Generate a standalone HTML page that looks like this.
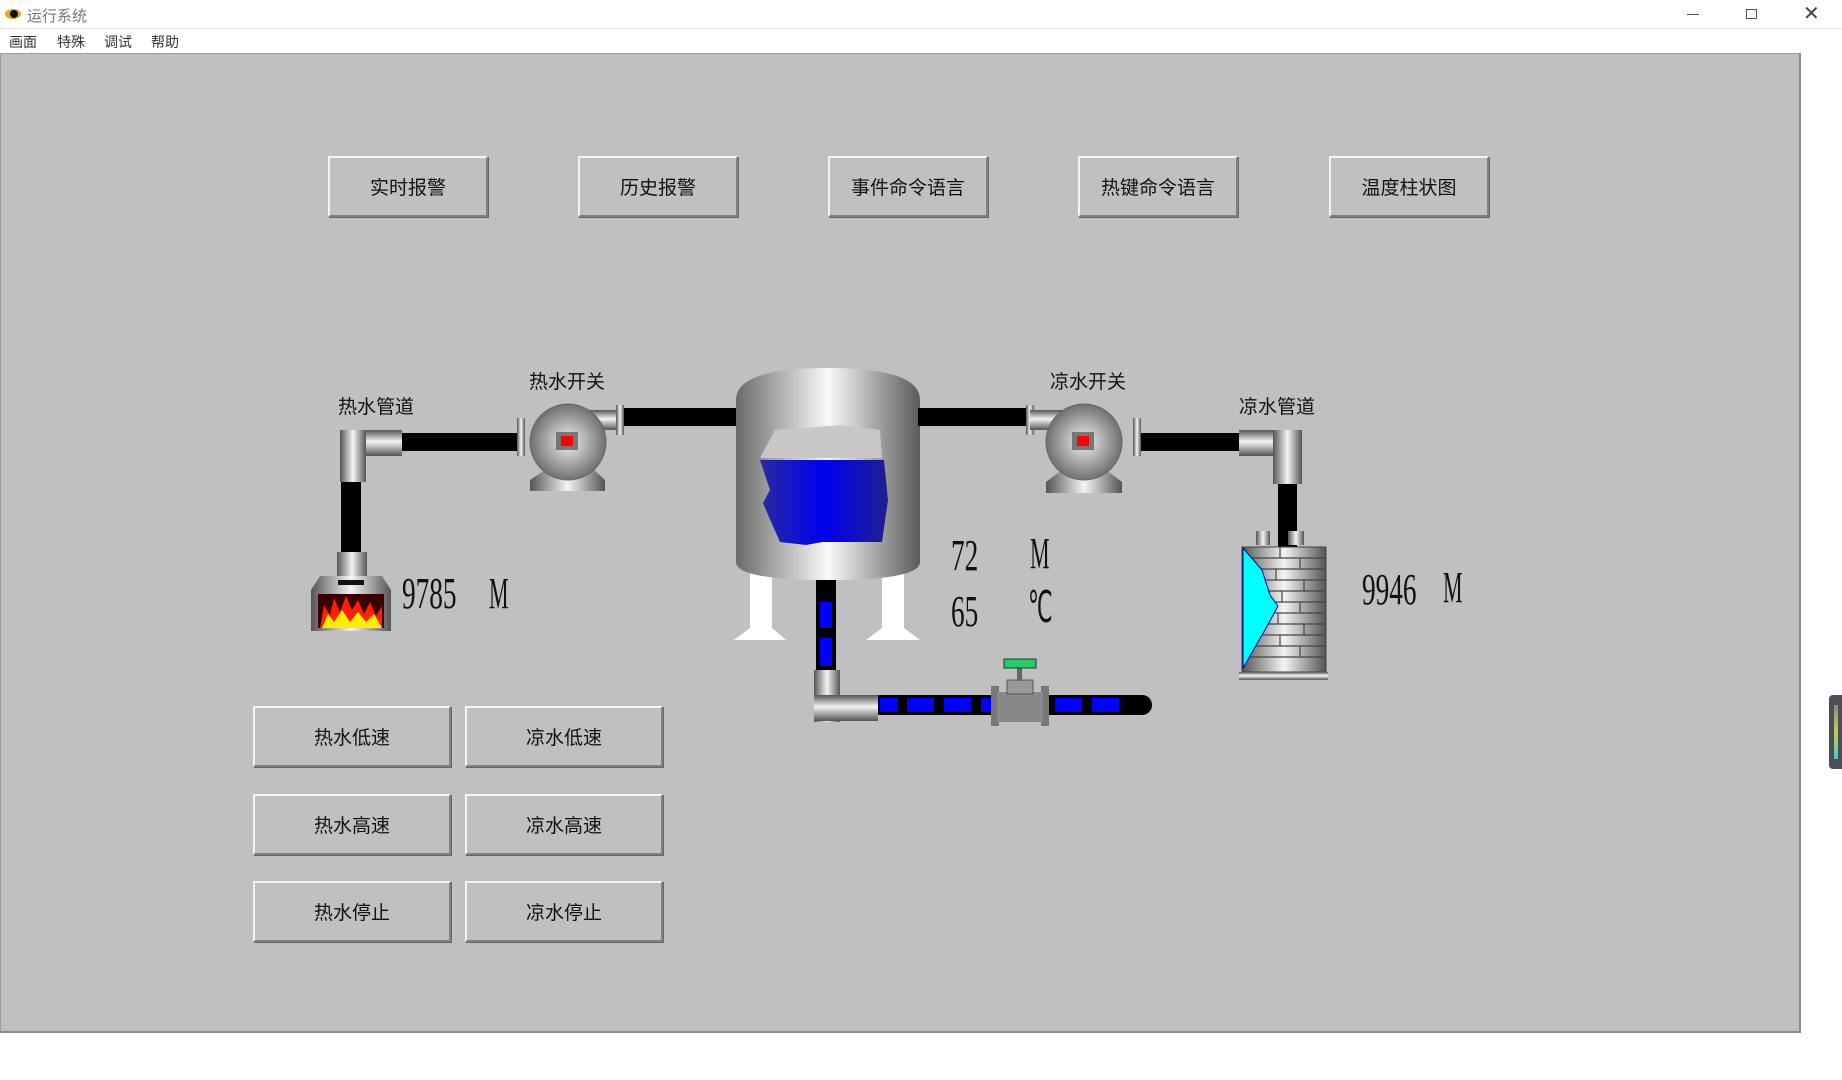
<!DOCTYPE html>
<html><head><meta charset="utf-8">
<style>
*{margin:0;padding:0;box-sizing:border-box}
body{width:1842px;height:1080px;background:#fff;position:relative;overflow:hidden;font-family:"Liberation Sans","Noto Sans CJK SC",sans-serif}
#titlebar{position:absolute;left:0;top:0;width:1842px;height:29px;background:#fff;border-bottom:1px solid #e3e3e3}
#title{position:absolute;left:27px;top:5px;font-size:15px;color:#777}
#menu{position:absolute;left:0;top:29px;width:1842px;height:24px;background:#fff;font-size:14px;color:#333}
#menu span{position:absolute;top:3px}
#panel{position:absolute;left:0;top:53px;width:1801px;height:980px;background:#c0c0c0;border-right:2px solid #8a8a8a;border-bottom:2px solid #8a8a8a;border-left:1px solid #9a9a9a;border-top:1px solid #9a9a9a}
.btn{position:absolute;background:#c0c0c0;border:2px solid;border-color:#f4f4f4 #808080 #808080 #f4f4f4;box-shadow:1px 1px 0 #666;font-size:19px;color:#111;display:flex;align-items:center;justify-content:center}
.lbl{position:absolute;font-size:19px;color:#111}
.num{position:absolute;font-family:"Liberation Serif",serif;font-size:44px;color:#111;transform:scaleX(0.62);transform-origin:left top;white-space:pre}
.unit{position:absolute;font-family:"Liberation Serif",serif;font-size:44px;color:#111;transform:scaleX(0.5);transform-origin:left top;white-space:pre}
</style></head><body>
<div id="titlebar">
<svg style="position:absolute;left:4px;top:7px" width="18" height="14"><ellipse cx="9" cy="7" rx="8" ry="5" fill="#f0a020"/><circle cx="10" cy="7" r="4" fill="#111"/></svg>
<div id="title">运行系统</div>
<div style="position:absolute;left:1687px;top:14px;width:12px;height:1px;background:#555"></div>
<div style="position:absolute;left:1746px;top:9px;width:11px;height:10px;border:1px solid #555"></div>
<div style="position:absolute;left:1803px;top:1px;font-size:20px;color:#444">✕</div>
</div>
<div id="menu">
<span style="left:9px">画面</span>
<span style="left:57px">特殊</span>
<span style="left:104px">调试</span>
<span style="left:151px">帮助</span>
</div>
<div id="panel"></div>

<div class="btn" style="left:328px;top:156px;width:160px;height:61px">实时报警</div>
<div class="btn" style="left:578px;top:156px;width:160px;height:61px">历史报警</div>
<div class="btn" style="left:828px;top:156px;width:160px;height:61px">事件命令语言</div>
<div class="btn" style="left:1078px;top:156px;width:160px;height:61px">热键命令语言</div>
<div class="btn" style="left:1329px;top:156px;width:160px;height:61px">温度柱状图</div>

<div class="btn" style="left:253px;top:706px;width:198px;height:61px">热水低速</div>
<div class="btn" style="left:465px;top:706px;width:198px;height:61px">凉水低速</div>
<div class="btn" style="left:253px;top:794px;width:198px;height:61px">热水高速</div>
<div class="btn" style="left:465px;top:794px;width:198px;height:61px">凉水高速</div>
<div class="btn" style="left:253px;top:881px;width:198px;height:61px">热水停止</div>
<div class="btn" style="left:465px;top:881px;width:198px;height:61px">凉水停止</div>

<svg style="position:absolute;left:0;top:0" width="1842" height="1080">
<defs>
<linearGradient id="mh" x1="0" x2="1" y1="0" y2="0"><stop offset="0" stop-color="#555"/><stop offset=".5" stop-color="#f4f4f4"/><stop offset="1" stop-color="#555"/></linearGradient>
<linearGradient id="mv" x1="0" x2="0" y1="0" y2="1"><stop offset="0" stop-color="#555"/><stop offset=".45" stop-color="#f4f4f4"/><stop offset="1" stop-color="#555"/></linearGradient>
<linearGradient id="tank" x1="0" x2="1"><stop offset="0" stop-color="#6a6a6a"/><stop offset=".5" stop-color="#fafafa"/><stop offset="1" stop-color="#5a5a5a"/></linearGradient>
<linearGradient id="water" x1="0" x2="1"><stop offset="0" stop-color="#2a2aa0"/><stop offset=".5" stop-color="#0000f0"/><stop offset="1" stop-color="#202090"/></linearGradient>
<radialGradient id="pump"><stop offset="0" stop-color="#f0f0f0"/><stop offset="1" stop-color="#707070"/></radialGradient>
</defs>
<rect x="399" y="433" width="120" height="18" fill="#000"/>
<rect x="341" y="480" width="20" height="74" fill="#000"/>
<rect x="620" y="408" width="118" height="18" fill="#000"/>
<g>
<rect x="340" y="430" width="62" height="26" fill="url(#mv)"/><rect x="340" y="430" width="26" height="52" fill="url(#mh)"/></g>
<g>
<rect x="337" y="552" width="30" height="24" fill="url(#mh)"/>
<path d="M320 576 H382 L391 590 V631 H311 V590 Z" fill="url(#mh)"/>
<rect x="338" y="580" width="26" height="5" fill="#111"/>
<rect x="318" y="594" width="66" height="34" fill="#3a0000"/>
<path d="M320 628 L324 605 L330 615 L334 598 L340 612 L346 596 L352 610 L358 600 L364 614 L370 602 L376 616 L382 606 V628 Z" fill="#ff2000"/>
<path d="M322 628 L328 614 L334 622 L342 610 L350 622 L358 612 L366 622 L374 614 L382 628 Z" fill="#ffee00"/></g>
<g>
<rect x="517" y="418" width="8" height="38" fill="url(#mh)"/>
<rect x="588" y="410" width="36" height="20" fill="url(#mv)"/><rect x="616" y="405" width="8" height="30" fill="url(#mh)"/>
<path d="M548 468 H592 L605 480 V491 H530 V480 Z" fill="url(#mh)"/>
<circle cx="568" cy="442" r="38" fill="url(#pump)" stroke="#666"/>
<rect x="556" y="432" width="22" height="18" fill="#777"/><rect x="561" y="436" width="12" height="10" fill="#f00"/></g>
<g>
<path d="M750 560 H772 V628 L786 640 H734 L750 628Z" fill="#fff"/>
<path d="M882 560 H904 V628 L920 640 H866 L882 628Z" fill="#fff"/>
<path d="M736 400 Q736 368 828 368 Q920 368 920 400 V562 Q920 580 828 580 Q736 580 736 562 Z" fill="url(#tank)"/>
<path d="M775 430 L840 425 L880 430 L882 458 L760 458Z" fill="#c8c8c8"/>
<path d="M760 460 L884 460 L888 500 L882 542 L822 542 L806 545 L780 542 L768 515 L763 503 L770 490Z" fill="url(#water)"/></g>
<rect x="816" y="580" width="20" height="92" fill="#000"/>
<rect x="820" y="602" width="12" height="26" fill="#00f"/><rect x="820" y="638" width="12" height="28" fill="#00f"/>
<rect x="870" y="695" width="282" height="20" rx="10" fill="#000"/>
<g fill="#00f"><rect x="880" y="698" width="18" height="14"/><rect x="907" y="698" width="27" height="14"/><rect x="944" y="698" width="27" height="14"/><rect x="981" y="698" width="12" height="14"/><rect x="1055" y="698" width="27" height="14"/><rect x="1092" y="698" width="27" height="14"/></g>
<g><rect x="814" y="670" width="26" height="52" fill="url(#mh)"/><rect x="814" y="695" width="64" height="26" fill="url(#mv)"/></g>
<g>
<rect x="991" y="686" width="8" height="40" fill="#777"/><rect x="1041" y="686" width="8" height="40" fill="#777"/>
<rect x="997" y="692" width="46" height="30" fill="#888"/><rect x="1007" y="680" width="26" height="14" fill="#999" stroke="#555"/>
<rect x="1017" y="667" width="5" height="14" fill="#666"/><rect x="1004" y="659" width="32" height="9" fill="#2c6" stroke="#333"/></g>
<rect x="918" y="408" width="110" height="18" fill="#000"/>
<rect x="1136" y="433" width="105" height="18" fill="#000"/>
<rect x="1278" y="482" width="19" height="66" fill="#000"/>
<g>
<rect x="1026" y="405" width="8" height="30" fill="url(#mh)"/><rect x="1030" y="410" width="36" height="20" fill="url(#mv)"/>
<rect x="1133" y="418" width="8" height="38" fill="url(#mh)"/>
<path d="M1062 470 H1106 L1122 482 V493 H1046 V482 Z" fill="url(#mh)"/>
<circle cx="1084" cy="442" r="38" fill="url(#pump)" stroke="#666"/>
<rect x="1072" y="432" width="22" height="18" fill="#777"/><rect x="1077" y="436" width="12" height="10" fill="#f00"/></g>
<g><rect x="1239" y="430" width="63" height="26" fill="url(#mv)"/><rect x="1273" y="430" width="29" height="54" fill="url(#mh)"/></g>
<g>
<rect x="1256" y="531" width="14" height="14" fill="url(#mh)"/><rect x="1288" y="531" width="16" height="14" fill="url(#mh)"/>
<rect x="1242" y="547" width="84" height="125" fill="url(#mh)" stroke="#444"/>
<g stroke="#444" stroke-width="1.2" fill="none">
<path d="M1242 558 H1326 M1242 569 H1326 M1242 580 H1326 M1242 591 H1326 M1242 602 H1326 M1242 613 H1326 M1242 624 H1326 M1242 635 H1326 M1242 646 H1326 M1242 657 H1326"/>
<path d="M1280 547 V558 M1300 558 V569 M1276 569 V580 M1304 580 V591 M1282 591 V602 M1300 602 V613 M1278 613 V624 M1304 624 V635 M1280 635 V646 M1300 646 V657"/></g>
<path d="M1243 548 L1262 570 L1270 595 L1278 606 L1265 630 L1243 668Z" fill="#0ff" stroke="#00a"/>
<rect x="1239" y="672" width="89" height="8" fill="url(#mv)"/></g>
</svg>

<div class="lbl" style="left:338px;top:392px">热水管道</div>
<div class="lbl" style="left:529px;top:367px">热水开关</div>
<div class="lbl" style="left:1050px;top:367px">凉水开关</div>
<div class="lbl" style="left:1239px;top:392px">凉水管道</div>

<div class="num" style="left:402px;top:568px">9785</div>
<div class="unit" style="left:489px;top:568px">M</div>
<div class="num" style="left:951px;top:530px">72</div>
<div class="unit" style="left:1030px;top:528px">M</div>
<div class="num" style="left:951px;top:586px">65</div>
<div class="unit" style="left:1028px;top:582px">℃</div>
<div class="num" style="left:1362px;top:564px">9946</div>
<div class="unit" style="left:1443px;top:562px">M</div>

<div style="position:absolute;left:1829px;top:695px;width:13px;height:74px;background:#4a4e58;border-radius:4px 0 0 4px"><div style="position:absolute;left:5px;top:10px;width:4px;height:54px;background:linear-gradient(#888,#cc4,#4cc)"></div></div>
</body></html>
